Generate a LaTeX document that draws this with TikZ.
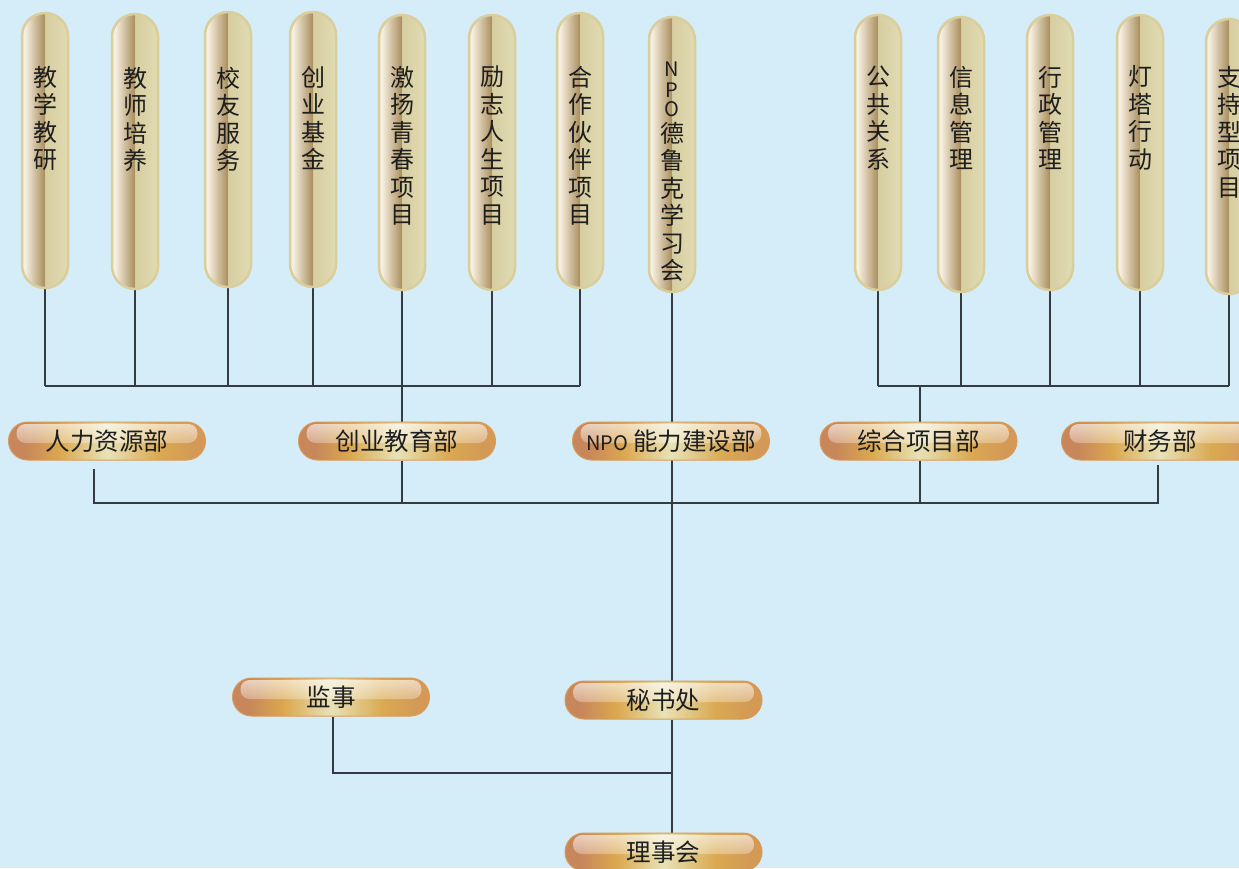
\documentclass[tikz,border=0pt]{standalone}
\usepackage{fontspec}
\setmainfont{Noto Sans CJK SC}
\usetikzlibrary{fadings,backgrounds}
\pgfdeclarelayer{bot}
\pgfsetlayers{bot,background,main}
\definecolor{bg}{HTML}{D5ECF9}
\definecolor{txt}{HTML}{1E1E1E}
\definecolor{lc}{HTML}{353B42}
\definecolor{vbord}{HTML}{D9CE9C}
\definecolor{vA}{HTML}{F7F0E2}
\definecolor{vB}{HTML}{AC9262}
\definecolor{vC}{HTML}{D6CDA0}
\definecolor{vD}{HTML}{E2DCB3}
\definecolor{hbord}{HTML}{D99C58}
\definecolor{hA}{HTML}{C8865B}
\definecolor{hB}{HTML}{DBA84F}
\definecolor{hC}{HTML}{E8E2B6}
\definecolor{hD}{HTML}{DAAA52}
\definecolor{hE}{HTML}{D39955}
\pgfdeclarehorizontalshading{vshade}{100bp}{color(0bp)=(vA); color(25bp)=(vA); color(28bp)=(vA); color(49bp)=(vB); color(50bp)=(vC); color(75bp)=(vD); color(100bp)=(vD)}
\pgfdeclarehorizontalshading{hshade}{100bp}{color(0bp)=(hA); color(25bp)=(hA); color(29bp)=(hA); color(38bp)=(hB); color(50bp)=(hC); color(63bp)=(hD); color(72bp)=(hE); color(75bp)=(hE); color(100bp)=(hE)}
\tikzfading[name=hlfade, top color=transparent!35, bottom color=transparent!100]
\tikzset{
  vpill/.style={draw=vbord, line width=2.5pt, shading=vshade, rounded corners=23pt,
    minimum width=46pt, minimum height=275pt, inner sep=0pt},
  vtext/.style={font=\fontsize{24}{27.5}\selectfont, text=txt, align=center, inner sep=0pt, anchor=north},
  hpill/.style={draw=hbord, line width=1pt, shading=hshade, rounded corners=19pt,
    minimum width=197pt, minimum height=38pt, inner sep=0pt,
    font=\fontsize{24.5}{27}\selectfont, text=txt,
    path picture={\fill[white, rounded corners=9pt, path fading=hlfade]
      ([xshift=8pt,yshift=-2pt]path picture bounding box.north west) rectangle
      ([xshift=-8pt,yshift=-21pt]path picture bounding box.north east);}},
  conn/.style={draw=lc, line width=1.1pt}
}
\newcommand{\lat}[1]{{\fontsize{20}{27}\selectfont #1}}
\begin{document}
\begin{tikzpicture}[x=1pt,y=-1pt]
\begin{pgfonlayer}{bot}
\fill[bg] (0,0) rectangle (1239,868);
\end{pgfonlayer}
\useasboundingbox (0,0) rectangle (1239,868);
\clip (0,0) rectangle (1239,868);
% vertical pills
\node[vpill] (v1) at (45,150.5) {};
\node[vpill] (v2) at (135,151.5) {};
\node[vpill] (v3) at (228,149.5) {};
\node[vpill] (v4) at (313,149.5) {};
\node[vpill] (v5) at (402,152.5) {};
\node[vpill] (v6) at (492,152.5) {};
\node[vpill] (v7) at (580,150.5) {};
\node[vpill] (v8) at (672,154.5) {};
\node[vpill] (v9) at (878,152.5) {};
\node[vpill] (v10) at (961,154.5) {};
\node[vpill] (v11) at (1050,152.5) {};
\node[vpill] (v12) at (1140,152.5) {};
\node[vpill] (v13) at (1229,156.5) {};
\node[vtext] (t1) at ([yshift=-54pt]v1.north) {教\\学\\教\\研};
\node[vtext] (t2) at ([yshift=-54pt]v2.north) {教\\师\\培\\养};
\node[vtext] (t3) at ([yshift=-56pt]v3.north) {校\\友\\服\\务};
\node[vtext] (t4) at ([yshift=-55pt]v4.north) {创\\业\\基\\金};
\node[vtext] (t5) at ([yshift=-52pt]v5.north) {激\\扬\\青\\春\\项\\目};
\node[vtext] (t6) at ([yshift=-52pt]v6.north) {励\\志\\人\\生\\项\\目};
\node[vtext] (t7) at ([yshift=-54pt]v7.north) {合\\作\\伙\\伴\\项\\目};
\node[vtext] (t8) at ([yshift=-46pt]v8.north) {\lat{N}\\[-7pt]\lat{P}\\[-8pt]\lat{O}\\[-2pt]德\\鲁\\克\\学\\习\\会};
\node[vtext] (t9) at ([yshift=-52pt]v9.north) {公\\共\\关\\系};
\node[vtext] (t10) at ([yshift=-50pt]v10.north) {信\\息\\管\\理};
\node[vtext] (t11) at ([yshift=-52pt]v11.north) {行\\政\\管\\理};
\node[vtext] (t12) at ([yshift=-52pt]v12.north) {灯\\塔\\行\\动};
\node[vtext] (t13) at ([yshift=-48pt]v13.north) {支\\持\\型\\项\\目};
% horizontal pills
\node[hpill] (h1) at (107,441) {人力资源部};
\node[hpill] (h2) at (397,441) {创业教育部};
\node[hpill] (h3) at (671,441) {\lat{NPO} 能力建设部};
\node[hpill] (h4) at (918.5,441) {综合项目部};
\node[hpill] (h5) at (1160,441) {财务部};
\node[hpill] (s1) at (331,697) {监事};
\node[hpill] (s2) at (663.5,700) {秘书处};
\node[hpill] (s3) at (663.5,852) {理事会};
% helper coordinates
\coordinate (busU) at (0,386);
\coordinate (busL) at (0,503);
\coordinate (busS) at (0,773);
\coordinate (trunk) at (672,0);
\coordinate (mid2) at (402,0);
\coordinate (mid4) at (920,0);
\coordinate (left1) at (94,0);
\coordinate (right5) at (1158,0);
\coordinate (left6) at (333,0);
% connectors
\begin{pgfonlayer}{background}
\foreach \i in {1,...,7} {\draw[conn] (v\i.south) -- (v\i.south |- busU);}
\foreach \i in {9,...,13} {\draw[conn] (v\i.south) -- (v\i.south |- busU);}
\draw[conn] (v1.south |- busU) -- (v7.south |- busU);
\draw[conn] (v9.south |- busU) -- (v13.south |- busU);
\draw[conn] (v5.south) -- (h2.north -| mid2);
\draw[conn] (mid4 |- busU) -- (h4.north -| mid4);
\draw[conn] (v8.south) -- (s2.north -| trunk);
\draw[conn] (s2.south -| trunk) -- (s3.north -| trunk);
\draw[conn] ([yshift=-8pt]h1.south -| left1) -- (left1 |- busL) -- (right5 |- busL) -- ([yshift=-4pt]h5.south -| right5);
\draw[conn] (h2.south -| mid2) -- (mid2 |- busL);
\draw[conn] (h4.south -| mid4) -- (mid4 |- busL);
\draw[conn] (s1.south -| left6) -- (left6 |- busS) -- (trunk |- busS);
\end{pgfonlayer}
\end{tikzpicture}
\end{document}
